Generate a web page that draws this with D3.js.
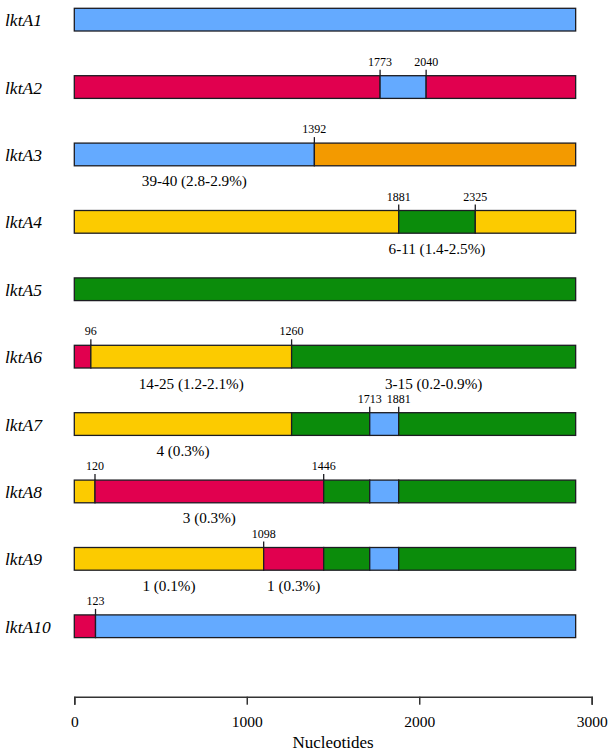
<!DOCTYPE html>
<html>
<head>
<meta charset="utf-8">
<script src="https://cdn.jsdelivr.net/npm/d3@7"></script>
<style>
  html, body { margin: 0; padding: 0; background: #fff; }
  svg { display: block; }
  text { font-family: "Liberation Serif", "Times New Roman", Times, serif; fill: #000; }
</style>
</head>
<body>
<svg id="chart" width="613" height="754"></svg>
<script>
// ---------------- data ----------------
const genes = ["lktA1","lktA2","lktA3","lktA4","lktA5","lktA6","lktA7","lktA8","lktA9","lktA10"];
const geneLength = 2907;
// segment start positions (nt) for each allele
const segStarts = [
  [0],
  [0, 1773, 2040],
  [0, 1392],
  [0, 1881, 2325],
  [0],
  [0, 96, 1260],
  [0, 1260, 1713, 1881],
  [0, 120, 1446, 1713, 1881],
  [0, 1098, 1446, 1713, 1881],
  [0, 123]
];
// lineage of each segment (1 = lktA1-like, 2 = lktA2-like, 3 = lktA3-like, 4 = lktA4-like, 5 = lktA5-like)
const segTypes = [
  [1],
  [2, 1, 2],
  [1, 3],
  [4, 5, 4],
  [5],
  [2, 4, 5],
  [4, 5, 1, 5],
  [4, 2, 5, 1, 5],
  [4, 2, 5, 1, 5],
  [2, 1]
];
// labelled recombination breakpoints
const breakpoints = [
  [],
  [1773, 2040],
  [1392],
  [1881, 2325],
  [],
  [96, 1260],
  [1713, 1881],
  [120, 1446],
  [1098],
  [123]
];
// polymorphic site annotations: [gene, segment index, text]
const annotations = [
  ["lktA3", 0, "39-40 (2.8-2.9%)"],
  ["lktA4", 1, "6-11 (1.4-2.5%)"],
  ["lktA6", 1, "14-25 (1.2-2.1%)"],
  ["lktA6", 2, "3-15 (0.2-0.9%)"],
  ["lktA7", 0, "4 (0.3%)"],
  ["lktA8", 1, "3 (0.3%)"],
  ["lktA9", 0, "1 (0.1%)"],
  ["lktA9", 1, "1 (0.3%)"]
];
const axisTicks = [0, 1000, 2000, 3000];
const axisTitle = "Nucleotides";

// ---------------- drawing ----------------
const svg = d3.select("#chart");
const x = d3.scaleLinear().domain([0, 3000]).range([74.3, 591.7]);
const y = d3.scalePoint().domain(genes).range([8.3, 8.3 + 9 * 67.4]);
const barH = 22.7;
const color = d3.scaleOrdinal()
  .domain([1, 2, 3, 4, 5])
  .range(["#64aaff", "#e1004f", "#f39a00", "#fccb00", "#0b8c0b"]);

// build segments
const segments = [];
genes.forEach((g, i) => {
  const starts = segStarts[i];
  starts.forEach((s, j) => {
    const e = j + 1 < starts.length ? starts[j + 1] : geneLength;
    segments.push({ gene: g, idx: j, start: s, end: e, type: segTypes[i][j] });
  });
});

// gene labels
svg.append("g").selectAll("text")
  .data(genes)
  .join("text")
  .attr("x", 5)
  .attr("y", d => y(d) + barH / 2 + 6.5)
  .attr("font-style", "italic")
  .attr("font-size", 17.5)
  .text(d => d);

// segments
svg.append("g").selectAll("rect")
  .data(segments)
  .join("rect")
  .attr("x", d => x(d.start))
  .attr("y", d => y(d.gene))
  .attr("width", d => x(d.end) - x(d.start))
  .attr("height", barH)
  .attr("fill", d => color(d.type))
  .attr("stroke", "#1c1c22")
  .attr("stroke-width", 1.3);

// breakpoints
const bp = [];
genes.forEach((g, i) => breakpoints[i].forEach(v => bp.push({ gene: g, pos: v })));
const bpG = svg.append("g");
bpG.selectAll("line")
  .data(bp)
  .join("line")
  .attr("x1", d => x(d.pos)).attr("x2", d => x(d.pos))
  .attr("y1", d => y(d.gene) - 6).attr("y2", d => y(d.gene))
  .attr("stroke", "#1c1c22")
  .attr("stroke-width", 1.3);
bpG.selectAll("text")
  .data(bp)
  .join("text")
  .attr("x", d => x(d.pos))
  .attr("y", d => y(d.gene) - 10)
  .attr("text-anchor", "middle")
  .attr("font-size", 12)
  .text(d => d.pos);

// annotations
svg.append("g").selectAll("text")
  .data(annotations)
  .join("text")
  .attr("x", d => {
    const seg = segments.find(s => s.gene === d[0] && s.idx === d[1]);
    return x((seg.start + seg.end) / 2);
  })
  .attr("y", d => y(d[0]) + barH + 20.5)
  .attr("text-anchor", "middle")
  .attr("font-size", 15.2)
  .text(d => d[2]);

// axis
const axisY = 696.7;
const axis = d3.axisBottom(x)
  .tickValues(axisTicks)
  .tickFormat(d3.format("d"))
  .tickSize(8)
  .tickSizeOuter(8)
  .tickPadding(11);
const ax = svg.append("g").attr("transform", `translate(0,${axisY})`).call(axis);
ax.select(".domain").attr("stroke", "#333").attr("stroke-width", 1.5);
ax.selectAll(".tick line").attr("stroke", "#333").attr("stroke-width", 1.5);
ax.selectAll(".tick text")
  .attr("font-size", 15.5)
  .attr("fill", "#000");

svg.append("text")
  .attr("x", x(1500))
  .attr("y", 748)
  .attr("text-anchor", "middle")
  .attr("font-size", 17)
  .text(axisTitle);
</script>
</body>
</html>
